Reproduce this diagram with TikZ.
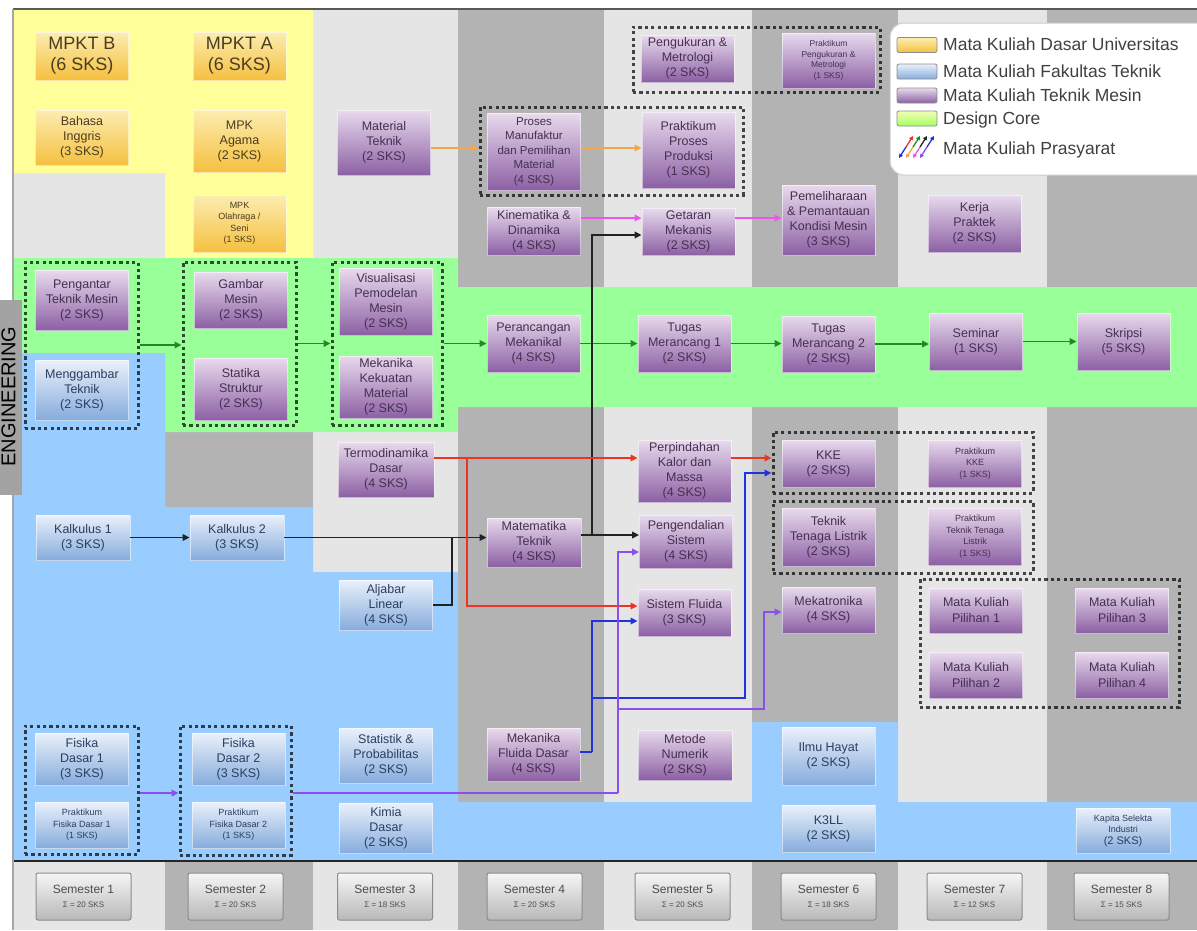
\documentclass[tikz,border=0pt]{standalone}
\usepackage{fontspec}
\setmainfont{Liberation Sans}
\usetikzlibrary{arrows.meta}

% background bands
\definecolor{bgLight}{HTML}{E5E5E5}
\definecolor{bgDark}{HTML}{B3B3B3}
\definecolor{bandYellow}{HTML}{FFFF99}
\definecolor{bandGreen}{HTML}{99FF99}
\definecolor{bandBlue}{HTML}{99CCFF}
\definecolor{tabGray}{HTML}{A3A3A3}
% course boxes
\definecolor{pmTop}{HTML}{E8DAED}
\definecolor{pmBot}{HTML}{8C60A4}
\definecolor{pmText}{HTML}{45304F}
\definecolor{ftTop}{HTML}{EAF0FA}
\definecolor{ftBot}{HTML}{86ACDD}
\definecolor{ftText}{HTML}{2A3E60}
\definecolor{duTop}{HTML}{FCEDB0}
\definecolor{duBot}{HTML}{F5C040}
\definecolor{duText}{HTML}{4A3C1E}
\definecolor{semTop}{HTML}{F6F6F6}
\definecolor{semBot}{HTML}{B8B8B8}
% prerequisite arrows
\definecolor{cGreen}{HTML}{1E8C1E}
\definecolor{cOrange}{HTML}{F5A54A}
\definecolor{cMagenta}{HTML}{EE55EE}
\definecolor{cRed}{HTML}{EE3322}
\definecolor{cBlue}{HTML}{2233DD}
\definecolor{cPurple}{HTML}{8A4FF0}
\definecolor{cBlack}{HTML}{222222}

\begin{document}
\begin{tikzpicture}[x=1pt,y=-1pt,
  course/.style={inner sep=1pt, align=center, minimum width=93, draw=white,
    draw opacity=0.55, line width=0.8pt, font=\fontsize{12.5}{15}\selectfont},
  pm/.style={course, top color=pmTop, bottom color=pmBot, text=pmText},
  ft/.style={course, top color=ftTop, bottom color=ftBot, text=ftText},
  du/.style={course, top color=duTop, bottom color=duBot, text=duText},
  txtbig/.style={font=\fontsize{18}{21}\selectfont},
  txtmid/.style={font=\fontsize{11.5}{14.5}\selectfont},
  txtsmall/.style={font=\fontsize{9}{11.5}\selectfont},
  txttiny/.style={font=\fontsize{8.5}{10.5}\selectfont},
  txtpil/.style={font=\fontsize{12.5}{16}\selectfont},
  grp/.style={draw=black, draw opacity=0.7, line width=3pt,
    dash pattern=on 3.2pt off 3.2pt, inner sep=0},
  semlbl/.style={rounded corners=2pt, top color=semTop, bottom color=semBot,
    draw=black!45, line width=1pt, minimum width=95, minimum height=47,
    align=center, text=black!70, font=\fontsize{12}{13}\selectfont, inner sep=1pt},
  swatch/.style={rounded corners=2pt, draw=black!45, line width=0.8pt,
    minimum width=40, minimum height=15, inner sep=0},
  legtext/.style={anchor=base west, inner sep=0, text=black!75,
    font=\fontsize{17.5}{20}\selectfont},
  pre/.style={-{Triangle[length=7pt,width=6.5pt]}, line width=1.8pt},
]
\useasboundingbox (0,0) rectangle (1197,930);
\fill[white] (0,0) rectangle (1197,930);

% semester columns
\foreach \xa/\xb/\col in {14/165/bgLight,165/313/bgDark,313/458/bgLight,
  458/604/bgDark,604/752/bgLight,752/898/bgDark,898/1047/bgLight,1047/1197/bgDark}
  \fill[\col] (\xa,10) rectangle (\xb,930);

% course-group bands
\fill[bandYellow] (14,10) -- (313,10) -- (313,258) -- (165,258) -- (165,173)
  -- (14,173) -- cycle;
\fill[bandGreen] (14,258) -- (458,258) -- (458,287) -- (1197,287) -- (1197,407)
  -- (458,407) -- (458,432) -- (165,432) -- (165,353) -- (14,353) -- cycle;
\fill[bandBlue] (14,353) -- (165,353) -- (165,507) -- (313,507) -- (313,572)
  -- (458,572) -- (458,802) -- (752,802) -- (752,722) -- (898,722) -- (898,802)
  -- (1197,802) -- (1197,861) -- (14,861) -- cycle;

% frame lines
\draw[line width=2pt, black!65] (13,9) -- (1197,9);
\draw[line width=1.5pt, black!35] (13,9) -- (13,930);
\draw[line width=2.6pt, black!85] (14,861) -- (1197,861);

% side tab
\node[fill=tabGray, minimum width=22, minimum height=195, inner sep=0] (tab) at (11,397.5) {};
\node[rotate=90, anchor=base, inner sep=0, font=\fontsize{20}{20}\selectfont] (tabtext) at (15.5,396.5) {ENGINEERING};

% dotted groups
\node[grp, minimum width=113, minimum height=166] (g1a) at (81.5,345) {};
\node[grp, minimum width=113, minimum height=128] (g1b) at (81.5,790) {};
\node[grp, minimum width=113, minimum height=163] (g2a) at (239.5,343.5) {};
\node[grp, minimum width=111, minimum height=129] (g2b) at (235.5,790.5) {};
\node[grp, minimum width=110, minimum height=163] (g3) at (387,343.5) {};
\node[grp, minimum width=263, minimum height=88] (g4) at (611.5,151) {};
\node[grp, minimum width=247, minimum height=65] (g5) at (756.5,59.5) {};
\node[grp, minimum width=260, minimum height=61] (gkke) at (903,462.5) {};
\node[grp, minimum width=260, minimum height=72] (gttl) at (903,537) {};
\node[grp, minimum width=259, minimum height=128] (gpil) at (1049.5,643) {};

% semester 1
\node[du, txtbig, minimum height=48] (mpktb) at (82,56) {MPKT B\\(6 SKS)};
\node[du, minimum height=55] (bahasa) at (82,137.5) {Bahasa\\Inggris\\(3 SKS)};
\node[pm, minimum height=60] (pengantar) at (82,300) {Pengantar\\Teknik Mesin\\(2 SKS)};
\node[ft, minimum height=60] (menggambar) at (82,390) {Menggambar\\Teknik\\(2 SKS)};
\node[ft, minimum height=45, minimum width=94] (kalk1) at (83,537.5) {Kalkulus 1\\(3 SKS)};
\node[ft, minimum height=52] (fisika1) at (82,759) {Fisika\\Dasar 1\\(3 SKS)};
\node[ft, txtsmall, minimum height=46] (pfis1) at (82,825) {Praktikum\\Fisika Dasar 1\\(1 SKS)};

% semester 2
\node[du, txtbig, minimum height=48] (mpkta) at (239.5,56) {MPKT A\\(6 SKS)};
\node[du, minimum height=62] (agama) at (239.5,141) {MPK\\Agama\\(2 SKS)};
\node[du, txtsmall, minimum height=57] (olahraga) at (239.5,223.5) {MPK\\Olahraga /\\Seni\\(1 SKS)};
\node[pm, minimum height=56] (gambar) at (241,300) {Gambar\\Mesin\\(2 SKS)};
\node[pm, minimum height=62] (statika) at (241,389) {Statika\\Struktur\\(2 SKS)};
\node[ft, minimum height=45, minimum width=94] (kalk2) at (237,537.5) {Kalkulus 2\\(3 SKS)};
\node[ft, minimum height=52] (fisika2) at (238.5,759) {Fisika\\Dasar 2\\(3 SKS)};
\node[ft, txtsmall, minimum height=46] (pfis2) at (238.5,825) {Praktikum\\Fisika Dasar 2\\(1 SKS)};

% semester 3
\node[pm, minimum height=65] (material) at (384,142.5) {Material\\Teknik\\(2 SKS)};
\node[pm, minimum height=67] (visual) at (386,301.5) {Visualisasi\\Pemodelan\\Mesin\\(2 SKS)};
\node[pm, minimum height=62] (mekkek) at (386,387) {Mekanika\\Kekuatan\\Material\\(2 SKS)};
\node[pm, minimum height=55, minimum width=96] (termo) at (386,469.5) {Termodinamika\\Dasar\\(4 SKS)};
\node[ft, minimum height=50] (aljabar) at (386,605) {Aljabar\\Linear\\(4 SKS)};
\node[ft, minimum height=55] (statistik) at (386,755.5) {Statistik \&\\Probabilitas\\(2 SKS)};
\node[ft, minimum height=50] (kimia) at (386,828) {Kimia\\Dasar\\(2 SKS)};

% semester 4
\node[pm, txtmid, minimum height=77] (proses) at (534,151.5) {Proses\\Manufaktur\\dan Pemilihan\\Material\\(4 SKS)};
\node[pm, minimum height=48] (kin) at (534,231) {Kinematika \&\\Dinamika\\(4 SKS)};
\node[pm, minimum height=57] (peran) at (533.5,343.5) {Perancangan\\Mekanikal\\(4 SKS)};
\node[pm, minimum height=49, minimum width=94] (mate) at (534,542.5) {Matematika\\Teknik\\(4 SKS)};
\node[pm, minimum height=53] (mekflu) at (533.5,754.5) {Mekanika\\Fluida Dasar\\(4 SKS)};

% semester 5
\node[pm, minimum height=47] (ukur) at (687.5,58.5) {Pengukuran \&\\Metrologi\\(2 SKS)};
\node[pm, minimum height=76] (praktpp) at (688.5,150) {Praktikum\\Proses\\Produksi\\(1 SKS)};
\node[pm, minimum height=47] (getaran) at (688.5,231.5) {Getaran\\Mekanis\\(2 SKS)};
\node[pm, minimum height=57] (tm1) at (684.5,343.5) {Tugas\\Merancang 1\\(2 SKS)};
\node[pm, minimum height=62] (perpind) at (684.5,471) {Perpindahan\\Kalor dan\\Massa\\(4 SKS)};
\node[pm, minimum height=53] (pengend) at (686,541.5) {Pengendalian\\Sistem\\(4 SKS)};
\node[pm, minimum height=47] (sisflu) at (684.5,612.5) {Sistem Fluida\\(3 SKS)};
\node[pm, minimum height=50, minimum width=94] (metode) at (685,755) {Metode\\Numerik\\(2 SKS)};

% semester 6
\node[pm, txttiny, minimum height=55] (praktpm) at (828.5,60.5) {Praktikum\\Pengukuran \&\\Metrologi\\(1 SKS)};
\node[pm, minimum height=70] (pemel) at (828.5,220) {Pemeliharaan\\\& Pemantauan\\Kondisi Mesin\\(3 SKS)};
\node[pm, minimum height=56] (tm2) at (828.5,344) {Tugas\\Merancang 2\\(2 SKS)};
\node[pm, minimum height=47] (kke) at (828.5,463.5) {KKE\\(2 SKS)};
\node[pm, minimum height=58] (ttl) at (828.5,537) {Teknik\\Tenaga Listrik\\(2 SKS)};
\node[pm, minimum height=46] (mekat) at (828.5,610) {Mekatronika\\(4 SKS)};
\node[ft, minimum height=58] (hayat) at (828.5,756) {Ilmu Hayat\\(2 SKS)};
\node[ft, minimum height=47] (k3ll) at (828.5,828.5) {K3LL\\(2 SKS)};

% semester 7
\node[pm, minimum height=57] (kerja) at (974.5,223.5) {Kerja\\Praktek\\(2 SKS)};
\node[pm, minimum height=57] (seminar) at (976,341.5) {Seminar\\(1 SKS)};
\node[pm, txtsmall, minimum height=47] (praktkke) at (975,463.5) {Praktikum\\KKE\\(1 SKS)};
\node[pm, txtsmall, minimum height=57] (praktttl) at (975,536.5) {Praktikum\\Teknik Tenaga\\Listrik\\(1 SKS)};
\node[pm, txtpil, minimum height=45] (pil1) at (976,610.5) {Mata Kuliah\\Pilihan 1};
\node[pm, txtpil, minimum height=46] (pil2) at (976,675) {Mata Kuliah\\Pilihan 2};

% semester 8
\node[pm, minimum height=57] (skripsi) at (1123.5,341.5) {Skripsi\\(5 SKS)};
\node[pm, txtpil, minimum height=45] (pil3) at (1122,610.5) {Mata Kuliah\\Pilihan 3};
\node[pm, txtpil, minimum height=46] (pil4) at (1122,675) {Mata Kuliah\\Pilihan 4};
\node[ft, txtsmall, minimum height=45, minimum width=94] (kapita) at (1123,830.5) {Kapita Selekta\\Industri\\{\fontsize{11}{12}\selectfont (2 SKS)}};

% semester labels
\foreach \nm/\cx/\num/\sks in {s1/83.5/1/20, s2/235.5/2/20, s3/385/3/18, s4/534.5/4/20,
  s5/682.5/5/20, s6/828.5/6/18, s7/974.5/7/12, s8/1121.5/8/15}
  \node[semlbl] (\nm) at (\cx,896.5) {Semester \num\\[1pt]{\fontsize{8}{9}\selectfont Σ = \sks\ SKS}};

% junction points of the prerequisite lines
\coordinate (jAlj) at (452,537.5);
\coordinate (jMat) at (592,535);
\coordinate (jRed) at (467,458);
\coordinate (jFlu) at (592,752);
\coordinate (jFluB) at (592,698);
\coordinate (jFluC) at (745,698);
\coordinate (jFis) at (618,793);
\coordinate (jFisB) at (618,709);
\coordinate (jFisC) at (764,709);

% design core chain
\draw[pre, cGreen] (g1a.east) -- (g1a.east -| g2a.west);
\draw[pre, cGreen] (g2a.east) -- (g2a.east -| g3.west);
\draw[pre, cGreen] (g3.east) -- (g3.east -| peran.west);
\draw[pre, cGreen] (peran.east) -- (peran.east -| tm1.west);
\draw[pre, cGreen] (tm1.east) -- (tm1.east -| tm2.west);
\draw[pre, cGreen] (tm2.east) -- (tm2.east -| seminar.west);
\draw[pre, cGreen] (seminar.east) -- (seminar.east -| skripsi.west);

% materials and manufacturing
\draw[pre, cOrange] ([yshift=-5.5pt]material.east) -- ([yshift=-5.5pt]material.east -| g4.west);
\draw[pre, cOrange] ([yshift=3.5pt]proses.east) -- ([yshift=3.5pt]proses.east -| praktpp.west);

% dynamics
\draw[pre, cMagenta, line width=1.5pt] ([yshift=13pt]kin.east) -- ([yshift=13pt]kin.east -| getaran.west);
\draw[pre, cMagenta, line width=1.5pt] ([yshift=13.5pt]getaran.east) -- ([yshift=13.5pt]getaran.east -| pemel.west);

% mathematics
\draw[pre, cBlack] (kalk1.east) -- (kalk1.east -| kalk2.west);
\draw[pre, cBlack] (kalk2.east) -- (kalk2.east -| mate.west);
\draw[cBlack, line width=1.8pt] (aljabar.east) -| (jAlj);
\draw[pre, cBlack] ([yshift=7.5pt]mate.east) -- ([yshift=7.5pt]mate.east -| pengend.west);
\draw[pre, cBlack, line width=2.4pt] (jMat) |- ([yshift=-3.5pt]getaran.west);

% thermal sciences
\draw[pre, cRed, line width=2.2pt] ([yshift=11.5pt]termo.east) -- ([yshift=11.5pt]termo.east -| perpind.west);
\draw[pre, cRed, line width=2.2pt] (jRed) |- ([yshift=6.5pt]sisflu.west);
\draw[pre, cRed, line width=2.6pt] ([yshift=13pt]perpind.east) -- ([yshift=13pt]perpind.east -| gkke.west);

% fluid mechanics
\draw[cBlue, line width=1.8pt] ([yshift=2.5pt]mekflu.east) -- (jFlu);
\draw[pre, cBlue] (jFlu) |- ([yshift=-8.5pt]sisflu.west);
\draw[pre, cBlue] (jFluB) -- (jFluC) |- ([yshift=-10.5pt]gkke.west);

% physics
\draw[pre, cPurple, line width=2.2pt] ([yshift=-3pt]g1b.east) -- ([yshift=-3pt]g1b.east -| g2b.west);
\draw[cPurple, line width=2.4pt] ([yshift=-2.5pt]g2b.east) -- (jFis);
\draw[pre, cPurple, line width=2.2pt] (jFis) |- ([yshift=-10.5pt]pengend.west);
\draw[pre, cPurple, line width=2.2pt] (jFisB) -- (jFisC) |- ([yshift=-2pt]mekat.west);

% legend
\node[fill=white, draw=black!20, line width=1pt, rounded corners=14pt,
  minimum width=330, minimum height=152, inner sep=0] (legend) at (1055,99) {};
\node[swatch, top color=duTop, bottom color=duBot] (swDU) at (917,45) {};
\node[swatch, top color=ftTop, bottom color=ftBot] (swFT) at (917,71.5) {};
\node[swatch, top color=pmTop, bottom color=pmBot] (swPM) at (917,95.5) {};
\node[swatch, top color=green!15!yellow!30, bottom color=green!60!yellow!60] (swDC) at (917,118.5) {};
\node[legtext] (lgDU) at (943,50) {Mata Kuliah Dasar Universitas};
\node[legtext] (lgFT) at (943,77) {Mata Kuliah Fakultas Teknik};
\node[legtext] (lgPM) at (943,101) {Mata Kuliah Teknik Mesin};
\node[legtext] (lgDC) at (943,124) {Design Core};
\node[legtext] (lgPR) at (943,154) {Mata Kuliah Prasyarat};
% prerequisite icon: short double-headed arrows in the line colours
\foreach \i/\ca/\cb in {0/cBlue/cRed, 1/cOrange/cGreen, 2/cMagenta/cBlack, 3/cPurple/cBlue} {
  \coordinate (icM\i) at (906+7*\i,147);
  \draw[\cb, line width=1.3pt, -{Triangle[length=4pt,width=4pt]}] (icM\i) -- ++(7,-11);
  \draw[\ca, line width=1.3pt, -{Triangle[length=4pt,width=4pt]}] (icM\i) -- ++(-7,11);
}
\end{tikzpicture}
\end{document}
